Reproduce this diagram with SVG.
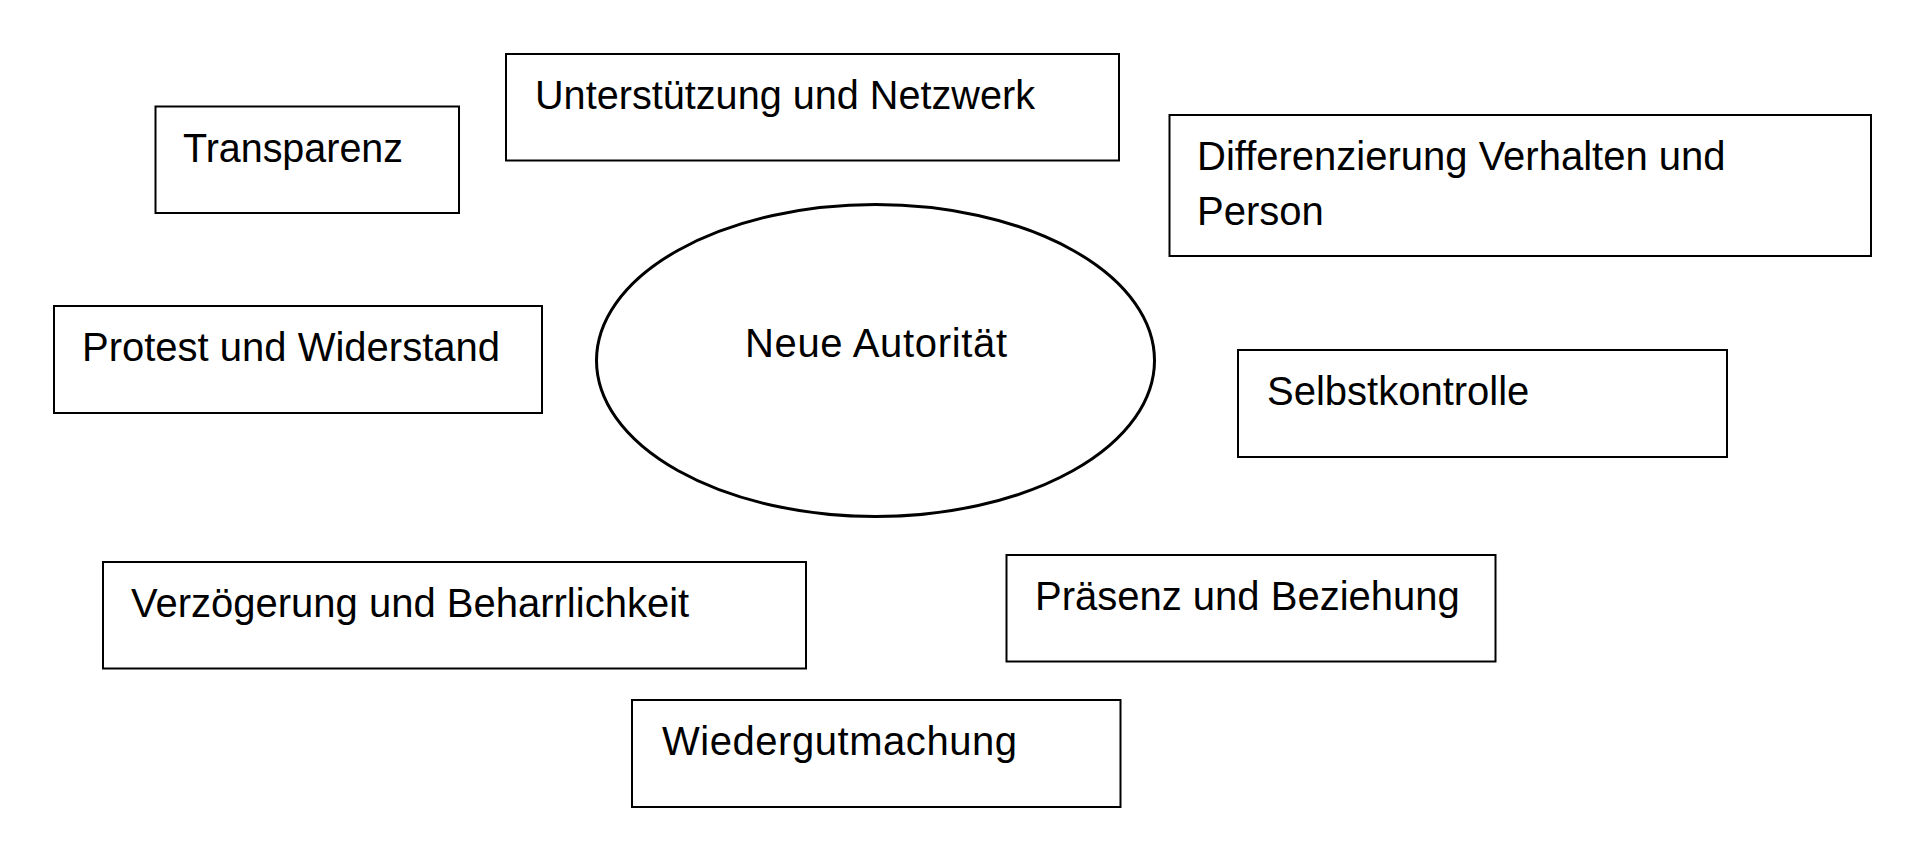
<svg xmlns="http://www.w3.org/2000/svg" width="1920" height="858" viewBox="0 0 1920 858">
<style>
.box{fill:#fff;stroke:#000;stroke-width:2}
.ell{fill:#fff;stroke:#000;stroke-width:3}
text{font-family:"Liberation Sans",Arial,sans-serif;font-size:40px;fill:#000}
</style>
<rect width="1920" height="858" fill="#fff"/>
<g id="connectors"/>
<g id="transparenz"><rect class="box" x="155.5" y="106.5" width="303.5" height="106.5"/><text x="183" y="162" textLength="220" lengthAdjust="spacingAndGlyphs">Transparenz</text></g>
<g id="unterstuetzung"><rect class="box" x="506" y="54" width="613" height="106.5"/><text x="535" y="109" textLength="500" lengthAdjust="spacingAndGlyphs">Unterstützung und Netzwerk</text></g>
<g id="differenzierung"><rect class="box" x="1169.5" y="115" width="701.5" height="141"/><text x="1197" y="170">Differenzierung Verhalten und</text><text x="1197" y="225">Person</text></g>
<g id="protest"><rect class="box" x="54" y="306" width="488" height="107"/><text x="82" y="361">Protest und Widerstand</text></g>
<g id="neue-autoritaet"><ellipse class="ell" cx="875.5" cy="360.5" rx="279" ry="156"/><text x="745" y="357" textLength="262" lengthAdjust="spacing">Neue Autorität</text></g>
<g id="selbstkontrolle"><rect class="box" x="1238" y="350" width="489" height="107"/><text x="1267" y="405">Selbstkontrolle</text></g>
<g id="verzoegerung"><rect class="box" x="103" y="562" width="703" height="106.5"/><text x="131" y="617">Verzögerung und Beharrlichkeit</text></g>
<g id="praesenz"><rect class="box" x="1006.5" y="555" width="489" height="106.5"/><text x="1035" y="610">Präsenz und Beziehung</text></g>
<g id="wiedergutmachung"><rect class="box" x="632" y="700" width="488.5" height="107"/><text x="662" y="755" textLength="355" lengthAdjust="spacing">Wiedergutmachung</text></g>
</svg>
